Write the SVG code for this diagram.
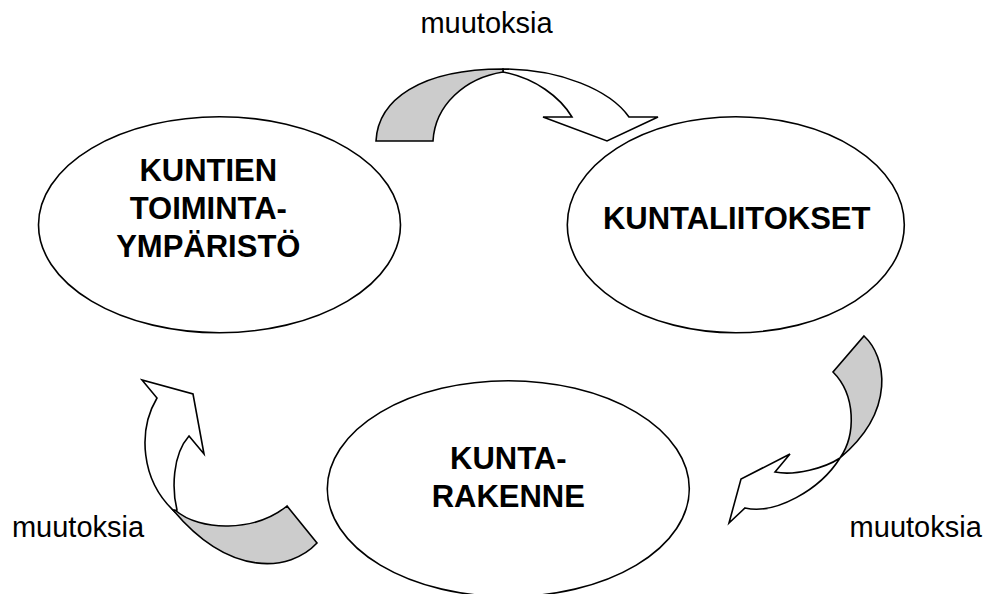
<svg xmlns="http://www.w3.org/2000/svg" width="986" height="594" viewBox="0 0 986 594">
<style>
.node{fill:#ffffff;stroke:#000000;stroke-width:1.6}
.lbl{font-family:"Liberation Sans",Arial,sans-serif;font-weight:bold;font-size:31px;fill:#000;text-anchor:middle}
.note{font-family:"Liberation Sans",Arial,sans-serif;font-size:29px;fill:#000;text-anchor:middle}
.front{fill:#ffffff;stroke:#000;stroke-width:1.6;stroke-linejoin:miter}
.back{fill:#cccccc;stroke:#000;stroke-width:1.6;stroke-linejoin:miter}
</style>
<rect width="986" height="594" fill="#ffffff"/>
<g id="node-toimintaymparisto">
<ellipse class="node" cx="219.5" cy="224.7" rx="181" ry="108"/>
<text class="lbl" x="208.3" y="180.7">KUNTIEN</text>
<text class="lbl" x="208.3" y="219">TOIMINTA-</text>
<text class="lbl" x="208.3" y="256.7">YMPÄRISTÖ</text>
</g>
<g id="node-kuntaliitokset">
<ellipse class="node" cx="735.8" cy="224.7" rx="168.5" ry="108"/>
<text class="lbl" x="736.7" y="229.3">KUNTALIITOKSET</text>
</g>
<g id="node-kuntarakenne">
<ellipse class="node" cx="508.3" cy="488.7" rx="181" ry="108"/>
<text class="lbl" x="508.3" y="469">KUNTA-</text>
<text class="lbl" x="508.3" y="506.7">RAKENNE</text>
</g>
<g id="connectors">
<g id="arrow-top">
<path class="front" d="M503,69 C560,69 610,90 629,117 L658,117 L607,141 L543,117 L572,117 C560,97 535,78 503,72 Z"/>
<path class="back" d="M376,141 C378,100 420,69 503,69 L503,72 C465,78 435,105 433,141 Z"/>
</g>
<g id="arrow-right">
<path class="front" d="M840,458 C820,490 775,515 745,508 L729,523 L741,479 L790,454 L775,472 C795,476 825,468 840,458 Z"/>
<path class="back" d="M864,336 C886,356 897,410 840,458 C856,435 856,395 833,372 Z"/>
</g>
<g id="arrow-left">
<path class="front" d="M157,398 C138,430 140,480 175,512 L177,510 C172,490 172,455 189,436 L204,454 L193,394 L142,380 Z"/>
<path class="back" d="M175,510 C200,532 255,532 287,506 L317,543 C290,572 230,578 173,510 Z"/>
</g>
<text class="note" x="486.5" y="33.3">muutoksia</text>
<text class="note" x="78" y="537">muutoksia</text>
<text class="note" x="915.7" y="537">muutoksia</text>
</g>
</svg>
